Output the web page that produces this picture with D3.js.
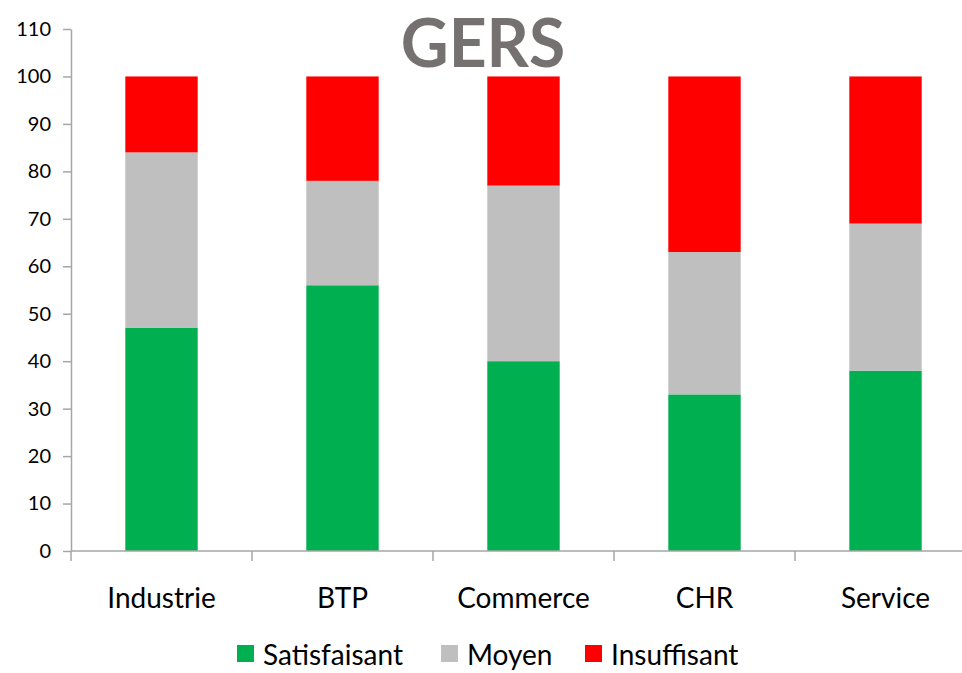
<!DOCTYPE html>
<html>
<head>
<meta charset="utf-8">
<script src="https://cdn.jsdelivr.net/npm/d3@7"></script>
<style>
  body { margin: 0; background: #fff; }
  text { font-family: Lato, "Open Sans", sans-serif; }
</style>
</head>
<body>
<div id="chart"></div>
<script>
// Data
const categories = ['Industrie', 'BTP', 'Commerce', 'CHR', 'Service'];
const satisfaisant = [47, 56, 40, 33, 38];
const moyen = [37, 22, 37, 30, 31];
const insuffisant = [16, 22, 23, 37, 31];
const seriesNames = ['Satisfaisant', 'Moyen', 'Insuffisant'];
const seriesColors = ['#00b050', '#bfbfbf', '#ff0000'];
const yTicks = d3.range(0, 111, 10);

const width = 962, height = 673;
const margin = { top: 29, right: -14, bottom: 122, left: 71 };

const svg = d3.select('#chart')
  .append('svg')
  .attr('width', width)
  .attr('height', height);

// build rows for the stack
const rows = categories.map((c, i) => ({
  name: c,
  Satisfaisant: satisfaisant[i],
  Moyen: moyen[i],
  Insuffisant: insuffisant[i]
}));
const stacked = d3.stack().keys(seriesNames)(rows);

const x = d3.scaleBand()
  .domain(categories)
  .range([margin.left, width - margin.right])
  .paddingInner(0.6)
  .paddingOuter(0.3);

const y = d3.scaleLinear()
  .domain([0, 110])
  .range([height - margin.bottom, margin.top]);

//Bars
svg.append('g')
  .selectAll('g')
  .data(stacked)
  .join('g')
  .attr('fill', (d, i) => seriesColors[i])
  .selectAll('rect')
  .data(d => d)
  .join('rect')
  .attr('x', d => x(d.data.name))
  .attr('y', d => y(d[1]))
  .attr('height', d => y(d[0]) - y(d[1]))
  .attr('width', x.bandwidth());

//Y axis
const yAxis = svg.append('g')
  .attr('transform', `translate(${margin.left},0)`)
  .call(d3.axisLeft(y).tickValues(yTicks).tickSize(8).tickSizeOuter(0).tickPadding(12));
yAxis.select('.domain').attr('stroke', '#a6a6a6').attr('stroke-width', 1.5);
yAxis.selectAll('.tick line').attr('stroke', '#a6a6a6').attr('stroke-width', 1.5);
yAxis.selectAll('.tick text').attr('font-size', 20).attr('fill', '#000');

//X axis: ticks at category boundaries
const step = x.step();
const boundaries = d3.range(categories.length + 1).map(i => margin.left + i * step);
const xg = svg.append('g');
xg.append('line')
  .attr('x1', margin.left).attr('x2', width)
  .attr('y1', y(0)).attr('y2', y(0))
  .attr('stroke', '#a6a6a6').attr('stroke-width', 1.5);
xg.selectAll('.bt')
  .data(boundaries)
  .join('line')
  .attr('class', 'bt')
  .attr('x1', d => d).attr('x2', d => d)
  .attr('y1', y(0)).attr('y2', y(0) + 10)
  .attr('stroke', '#a6a6a6').attr('stroke-width', 1.5);
xg.selectAll('.cl')
  .data(categories)
  .join('text')
  .attr('class', 'cl')
  .attr('x', d => x(d) + x.bandwidth() / 2)
  .attr('y', 608)
  .attr('text-anchor', 'middle')
  .attr('font-size', 28)
  .attr('fill', '#000')
  .text(d => d);

//Title
svg.append('text')
  .attr('x', 483)
  .attr('y', 67)
  .attr('text-anchor', 'middle')
  .attr('font-size', 66)
  .attr('font-weight', 'bold')
  .attr('fill', '#767171')
  .text('GERS');

//Legend
const legendX = [237, 441, 585];
const legend = svg.append('g')
  .selectAll('g')
  .data(seriesNames)
  .join('g')
  .attr('transform', (d, i) => `translate(${legendX[i]},645)`);
legend.append('rect')
  .attr('width', 17).attr('height', 17)
  .attr('fill', (d, i) => seriesColors[i]);
legend.append('text')
  .attr('x', 26)
  .attr('y', 20)
  .attr('font-size', 28)
  .attr('fill', '#000')
  .text(d => d);
</script>
</body>
</html>
